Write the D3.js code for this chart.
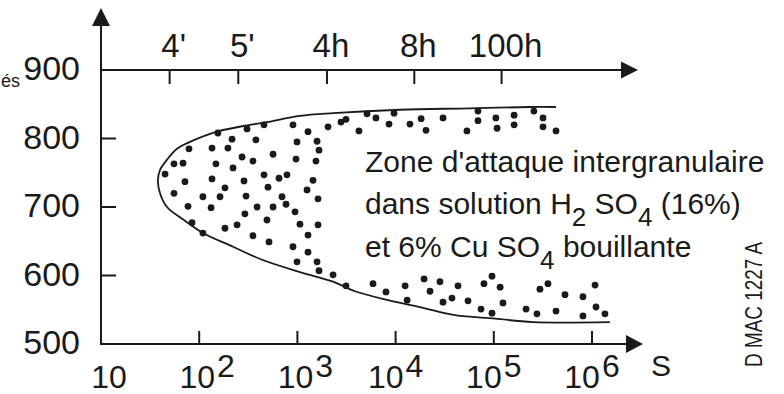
<!DOCTYPE html>
<html>
<head>
<meta charset="utf-8">
<script src="https://cdn.jsdelivr.net/npm/d3@7"></script>
<style>
  html, body { margin: 0; padding: 0; background: #fff; }
  svg { display: block; }
  text { font-family: "Liberation Sans", Arial, Helvetica, sans-serif; fill: #1a1a1a; }
</style>
</head>
<body>
<script>
// ---------- data ----------
const bottomTickValues = [10, 100, 1000, 10000, 100000, 1000000];
const bottomTickExponents = ["", "2", "3", "4", "5", "6"];
const yTickValues = [500, 600, 700, 800, 900];
const topTickValues = [50, 250, 2000, 15500, 120000];
const topTickLabels = ["4'", "5'", "4h", "8h", "100h"];

// envelope of the attack zone (seconds, °C)
const upperSec  = [429000, 234000, 57300, 11100, 2310, 1060, 490, 329, 152, 80.5, 59.4, 47.0, 39.9, 38.0];
const upperTemp = [846, 846, 844, 842, 837, 833, 824, 820, 810, 795, 785, 769, 754, 739];
const lowerSec  = [39.9, 47.0, 71.6, 109, 221, 437, 1060, 2310, 3860, 8380, 18600, 40300, 103000, 251000, 1520000];
const lowerTemp = [720, 700, 680, 662, 642, 623, 605, 591, 577, 564, 553, 542, 537, 532, 532];

// scatter dots inside the zone (seconds, °C)
const dotSec = [
  307,155,216,378,78.7,135,196,273,353,55.4,68.4,148,221,44.9,71.6,135,286,183,55.4,109,163,300,76.9,132,292,388,84.5,109,183,243,353,
  457,902,1282,2051,2780,3126,4236,991,1585,1660,565,968,1545,457,650,783,1442,502,1253,697,766,1622,565,946,490,1062,1622,1282,514,902,1282,991,1585,1660,2307,3126,
  5117,6310,9640,8570,14000,18200,20400,30400,53300,69000,69000,105000,108000,161000,161000,256000,317000,317000,430000,
  5890,7980,12500,13100,19500,22400,28300,30400,37500,43200,54600,74100,79400,95900,95900,116000,124000,213000,275000,295000,356000,430000,531000,809000,809000,1074000,1099000,1355000
];
const dotTemp = [
  814,808,799,798,785,786,786,773,767,763,764,763,757,748,737,741,738,728,720,715,715,716,701,699,690,700,677,662,669,674,658,
  820,820,810,817,824,828,811,795,796,783,777,770,767,747,742,747,739,729,725,715,704,712,700,693,681,675,674,659,649,642,634,620,620,607,601,585,
  836,830,837,821,821,829,812,830,811,840,826,830,815,834,820,840,830,817,811,
  588,576,585,564,595,577,591,561,567,585,563,551,588,599,545,583,560,551,544,580,588,548,572,569,541,586,554,544
];

const yAxisLabel = "és";
const xAxisLabel = "S";
const noteLines = [
  [["Zone d'attaque intergranulaire", 0]],
  [["dans solution H", 0], ["2", 1], [" SO", -1], ["4", 1], [" (16%)", -1]],
  [["et 6% Cu SO", 0], ["4", 1], [" bouillante", -1]]
];
const refCode = "D MAC 1227 A";

// ---------- drawing ----------
const W = 784, H = 394;
const ink = "#1a1a1a";
const svg = d3.select("body").append("svg").attr("width", W).attr("height", H);
svg.append("rect").attr("width", W).attr("height", H).attr("fill", "#fff");

const x = d3.scaleLog().domain([10, 1e6]).range([101, 592]);
const y = d3.scaleLinear().domain([500, 900]).range([344, 70]);

const x0 = x(10), yb = y(500), yt = y(900);
const axW = 2;

// Y axis with arrow
svg.append("line").attr("x1", x0).attr("x2", x0).attr("y1", yb + 1).attr("y2", 24)
  .attr("stroke", ink).attr("stroke-width", axW);
svg.append("path").attr("d", `M${x0 - 9},26 L${x0},8 L${x0 + 9},26 Z`).attr("fill", ink);

// bottom axis with arrow
const xb = x(1e6) + 34;
svg.append("line").attr("x1", x0 - 1).attr("x2", xb + 2).attr("y1", yb).attr("y2", yb)
  .attr("stroke", ink).attr("stroke-width", axW);
svg.append("path").attr("d", `M${xb},${yb - 9} L${xb + 17},${yb} L${xb},${yb + 9} Z`).attr("fill", ink);

// top axis with arrow
const xt = x(1e6) + 29;
svg.append("line").attr("x1", x0).attr("x2", xt + 2).attr("y1", yt).attr("y2", yt)
  .attr("stroke", ink).attr("stroke-width", axW);
svg.append("path").attr("d", `M${xt},${yt - 8.5} L${xt + 17},${yt} L${xt},${yt + 8.5} Z`).attr("fill", ink);

// Y ticks (inward) and labels
svg.selectAll(".yt").data(yTickValues.filter(v => v > 500 && v < 900)).join("line")
  .attr("x1", x0).attr("x2", x0 + 15).attr("y1", d => y(d)).attr("y2", d => y(d))
  .attr("stroke", ink).attr("stroke-width", axW);
svg.selectAll(".yl").data(yTickValues).join("text")
  .attr("x", 80).attr("y", d => y(d) + 10)
  .attr("text-anchor", "end").attr("font-size", 34)
  .text(d => d);

// bottom ticks & labels
svg.selectAll(".bt").data(bottomTickValues.filter(v => v > 10)).join("line")
  .attr("x1", d => x(d)).attr("x2", d => x(d)).attr("y1", yb).attr("y2", yb - 13)
  .attr("stroke", ink).attr("stroke-width", axW);
const bl = svg.selectAll(".bl").data(bottomTickValues).join("text")
  .attr("x", (d, i) => x(d) + (i < 3 ? 8 : 0)).attr("y", 388)
  .attr("text-anchor", "middle").attr("font-size", 32);
bl.append("tspan").text("10");
bl.append("tspan").attr("dx", 2).attr("dy", -11).text((d, i) => bottomTickExponents[i]);

// top ticks & labels
svg.selectAll(".tt").data(topTickValues).join("line")
  .attr("x1", d => x(d)).attr("x2", d => x(d)).attr("y1", yt).attr("y2", yt + 14)
  .attr("stroke", ink).attr("stroke-width", axW);
svg.selectAll(".tl").data(topTickValues).join("text")
  .attr("x", d => x(d) + 4).attr("y", 57)
  .attr("text-anchor", "middle").attr("font-size", 33)
  .text((d, i) => topTickLabels[i]);

// axis titles
svg.append("text").attr("x", 20).attr("y", 87).attr("text-anchor", "end")
  .attr("font-size", 18).text(yAxisLabel);
svg.append("text").attr("x", 651).attr("y", 376).attr("font-size", 30).text(xAxisLabel);

// envelope curve
const env = upperSec.map((s, i) => [s, upperTemp[i]])
  .concat(lowerSec.map((s, i) => [s, lowerTemp[i]]));
svg.append("path")
  .attr("d", d3.line().x(d => x(d[0])).y(d => y(d[1])).curve(d3.curveCatmullRom.alpha(0.5))(env))
  .attr("fill", "none").attr("stroke", ink).attr("stroke-width", 1.8);

// dots
svg.selectAll(".dot").data(dotSec.map((s, i) => [s, dotTemp[i]])).join("circle")
  .attr("cx", d => x(d[0])).attr("cy", d => y(d[1])).attr("r", 3.4)
  .attr("fill", ink);

// annotation
const noteBase = [172, 214, 257];
noteLines.forEach((parts, li) => {
  const t = svg.append("text").attr("x", 365).attr("y", noteBase[li]).attr("font-size", 30);
  parts.forEach(([s, shift]) => {
    const ts = t.append("tspan").text(s);
    if (shift === 1) ts.attr("dy", 12).attr("font-size", 26);
    else if (shift === -1) ts.attr("dy", -12);
  });
});

// reference code (rotated)
svg.append("text")
  .attr("transform", "translate(762,304.5) rotate(-90)")
  .attr("text-anchor", "middle").attr("font-size", 23)
  .attr("textLength", 125).attr("lengthAdjust", "spacingAndGlyphs")
  .text(refCode);
</script>
</body>
</html>
